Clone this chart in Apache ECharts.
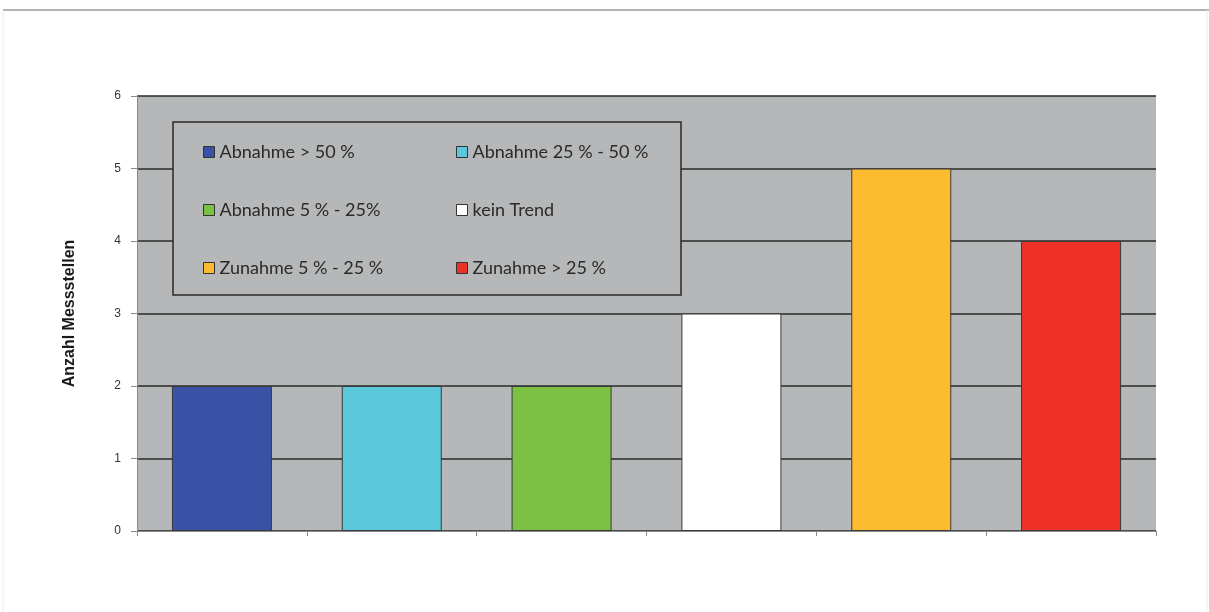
<!DOCTYPE html>
<html>
<head>
<meta charset="utf-8">
<script src="https://cdn.jsdelivr.net/npm/echarts@6/dist/echarts.min.js"></script>
<style>
html,body{margin:0;padding:0;background:#fff;}
#chart{width:1209px;height:612px;}
</style>
</head>
<body>
<div id="chart"></div>
<script>
const categories = ['Abnahme > 50 %', 'Abnahme 25 % - 50 %', 'Abnahme 5 % - 25%', 'kein Trend', 'Zunahme 5 % - 25 %', 'Zunahme > 25 %'];
const values = [2, 2, 2, 3, 5, 4];
const colors = ['#3a52a6', '#5cc8dc', '#7bc143', '#ffffff', '#fdbb2f', '#ee3127'];
const yTicks = [0, 1, 2, 3, 4, 5, 6];
const yTitle = 'Anzahl Messstellen';

const chart = echarts.init(document.getElementById('chart'));

const series = categories.map((name, i) => ({
  name: name,
  type: 'bar',
  stack: 'all',
  barWidth: 100,
  itemStyle: { color: colors[i], borderColor: '#3a3a3a', borderWidth: 1 },
  data: categories.map((c, j) => (j === i ? values[i] : '-'))
}));

const legendText = { fontFamily: 'Lato', fontSize: 18, color: '#2a2a2a', lineHeight: 20 };
const legendItemStyle = { borderColor: '#333', borderWidth: 1 };

chart.setOption({
  animation: false,
  backgroundColor: '#ffffff',
  grid: {
    left: 137, right: 53, top: 96, bottom: 81,
    show: true, backgroundColor: '#b5b7b9', borderWidth: 0
  },
  graphic: [
    { type: 'line', shape: { x1: 3, y1: 10, x2: 1209, y2: 10 }, style: { stroke: '#9a9a9a', lineWidth: 1.5 }, z: 0 },
    { type: 'line', shape: { x1: 3, y1: 10, x2: 3, y2: 612 }, style: { stroke: '#ececec', lineWidth: 1 }, z: 0 },
    { type: 'line', shape: { x1: 1207, y1: 10, x2: 1207, y2: 612 }, style: { stroke: '#ececec', lineWidth: 1 }, z: 0 },
    { type: 'rect', shape: { x: 173, y: 122, width: 508, height: 173 },
      style: { fill: '#b5b7b9', stroke: '#2a2a2a', lineWidth: 1.5 }, z: 10 }
  ],
  legend: [
    {
      data: [categories[0], categories[2], categories[4]],
      orient: 'vertical', left: 203, top: 142, padding: 0, itemGap: 38,
      itemWidth: 11, itemHeight: 11, icon: 'rect', itemStyle: legendItemStyle,
      textStyle: legendText, z: 20, selectedMode: false
    },
    {
      data: [categories[1], categories[3], categories[5]],
      orient: 'vertical', left: 456, top: 142, padding: 0, itemGap: 38,
      itemWidth: 11, itemHeight: 11, icon: 'rect', itemStyle: legendItemStyle,
      textStyle: legendText, z: 20, selectedMode: false
    }
  ],
  xAxis: {
    type: 'category',
    data: categories,
    boundaryGap: true,
    axisLine: { show: true, lineStyle: { color: '#8a8a8a', width: 1 } },
    axisTick: { show: true, alignWithLabel: false, length: 5, lineStyle: { color: '#8a8a8a' } },
    axisLabel: { show: false },
    splitLine: { show: false }
  },
  yAxis: {
    type: 'value',
    min: yTicks[0], max: yTicks[yTicks.length - 1], interval: 1,
    name: yTitle,
    nameLocation: 'middle',
    nameGap: 59,
    nameTextStyle: { fontFamily: 'Liberation Sans', fontWeight: 'bold', fontSize: 16, color: '#1a1a1a' },
    axisLine: { show: true, lineStyle: { color: '#8a8a8a', width: 1 } },
    axisTick: { show: true, length: 6, lineStyle: { color: '#8a8a8a' } },
    axisLabel: { fontFamily: 'Liberation Sans', fontSize: 12, color: '#333', margin: 16 },
    splitLine: { show: true, lineStyle: { color: '#2a2a2a', width: 1.5 } }
  },
  series: series
});
</script>
</body>
</html>
